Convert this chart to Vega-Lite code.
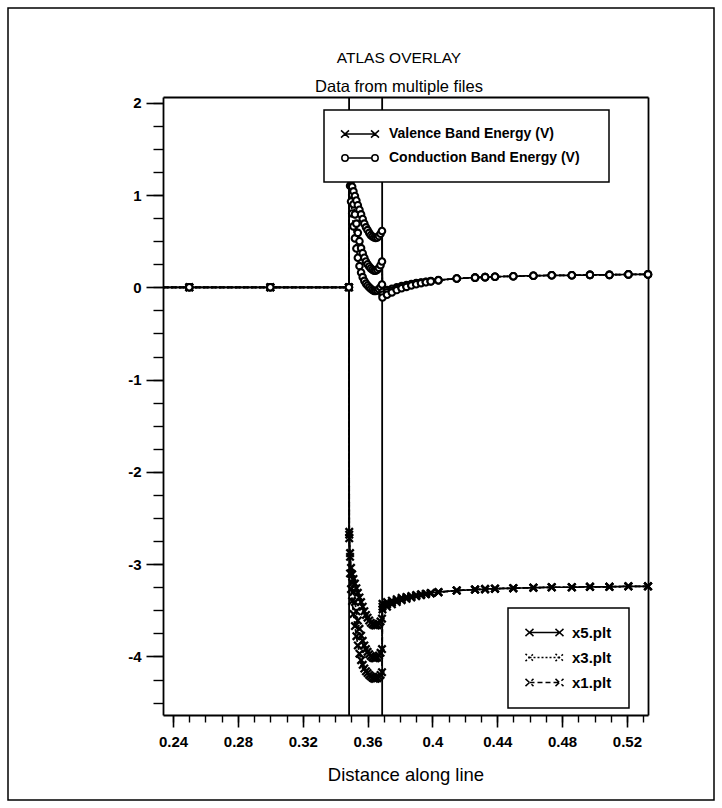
{
"$schema": "https://vega.github.io/schema/vega-lite/v6.json",
"width": 706, "height": 792, "padding": 8, "autosize": {"type": "none"},
"background": "white",
"title": {"text": "ATLAS OVERLAY", "subtitle": "Data from multiple files", "anchor": "middle", "dx": 38, "offset": -87,
  "font": "Liberation Sans", "fontSize": 15.5, "fontWeight": "normal", "color": "black",
  "subtitleFont": "Liberation Sans", "subtitleFontSize": 16.5, "subtitleColor": "black", "subtitlePadding": 12},
"datasets": {
  "bounds": [{"x": 0.3486}, {"x": 0.369}],
  "keys": [
    {"key": "cA", "band": "Conduction Band Energy (V)", "file": "x5.plt"},
    {"key": "cB", "band": "Conduction Band Energy (V)", "file": "x3.plt"},
    {"key": "cC", "band": "Conduction Band Energy (V)", "file": "x1.plt"},
    {"key": "vA", "band": "Valence Band Energy (V)", "file": "x5.plt"},
    {"key": "vB", "band": "Valence Band Energy (V)", "file": "x3.plt"},
    {"key": "vC", "band": "Valence Band Energy (V)", "file": "x1.plt"}
  ],
  "bands": [
    {"x": 0.2338, "cA": 0, "cB": 0, "cC": 0, "vA": 0, "vB": 0, "vC": 0},
    {"x": 0.25, "cA": 0, "cB": 0, "cC": 0, "vA": 0, "vB": 0, "vC": 0},
    {"x": 0.30, "cA": 0, "cB": 0, "cC": 0, "vA": 0, "vB": 0, "vC": 0},
    {"x": 0.3485, "cA": 0, "cB": 0, "cC": 0, "vA": 0, "vB": 0, "vC": 0},
    {"x": 0.3487, "cA": 1.55, "cB": 1.52, "cC": 1.48, "vA": -2.65, "vB": -2.68, "vC": -2.72},
    {"x": 0.3492, "cA": 1.32, "cB": 1.28, "cC": 1.10, "vA": -2.88, "vB": -2.92, "vC": -3.10},
    {"x": 0.3498, "cA": 1.16, "cB": 1.10, "cC": 0.93, "vA": -3.04, "vB": -3.10, "vC": -3.27},
    {"x": 0.3505, "cA": 1.09, "cB": 1.00, "cC": 0.80, "vA": -3.11, "vB": -3.20, "vC": -3.40},
    {"x": 0.3513, "cA": 1.04, "cB": 0.90, "cC": 0.66, "vA": -3.16, "vB": -3.30, "vC": -3.54},
    {"x": 0.3522, "cA": 0.99, "cB": 0.79, "cC": 0.53, "vA": -3.21, "vB": -3.41, "vC": -3.67},
    {"x": 0.3531, "cA": 0.94, "cB": 0.69, "cC": 0.42, "vA": -3.26, "vB": -3.51, "vC": -3.78},
    {"x": 0.3540, "cA": 0.89, "cB": 0.59, "cC": 0.32, "vA": -3.31, "vB": -3.61, "vC": -3.88},
    {"x": 0.3550, "cA": 0.84, "cB": 0.50, "cC": 0.23, "vA": -3.36, "vB": -3.70, "vC": -3.97},
    {"x": 0.3560, "cA": 0.79, "cB": 0.425, "cC": 0.16, "vA": -3.41, "vB": -3.775, "vC": -4.04},
    {"x": 0.3570, "cA": 0.74, "cB": 0.37, "cC": 0.11, "vA": -3.46, "vB": -3.83, "vC": -4.09},
    {"x": 0.3580, "cA": 0.69, "cB": 0.32, "cC": 0.07, "vA": -3.51, "vB": -3.88, "vC": -4.13},
    {"x": 0.3590, "cA": 0.65, "cB": 0.28, "cC": 0.04, "vA": -3.55, "vB": -3.92, "vC": -4.16},
    {"x": 0.3600, "cA": 0.62, "cB": 0.25, "cC": 0.02, "vA": -3.58, "vB": -3.95, "vC": -4.18},
    {"x": 0.3610, "cA": 0.59, "cB": 0.225, "cC": 0.00, "vA": -3.61, "vB": -3.975, "vC": -4.20},
    {"x": 0.3620, "cA": 0.565, "cB": 0.205, "cC": -0.015, "vA": -3.635, "vB": -3.995, "vC": -4.215},
    {"x": 0.3630, "cA": 0.55, "cB": 0.19, "cC": -0.03, "vA": -3.65, "vB": -4.01, "vC": -4.23},
    {"x": 0.3640, "cA": 0.54, "cB": 0.18, "cC": -0.04, "vA": -3.66, "vB": -4.02, "vC": -4.24},
    {"x": 0.3650, "cA": 0.535, "cB": 0.18, "cC": -0.04, "vA": -3.665, "vB": -4.02, "vC": -4.24},
    {"x": 0.3660, "cA": 0.54, "cB": 0.19, "cC": -0.035, "vA": -3.66, "vB": -4.01, "vC": -4.235},
    {"x": 0.3670, "cA": 0.555, "cB": 0.21, "cC": -0.02, "vA": -3.645, "vB": -3.99, "vC": -4.22},
    {"x": 0.3680, "cA": 0.58, "cB": 0.24, "cC": 0.00, "vA": -3.62, "vB": -3.96, "vC": -4.20},
    {"x": 0.3689, "cA": 0.61, "cB": 0.28, "cC": 0.03, "vA": -3.59, "vB": -3.92, "vC": -4.17},
    {"x": 0.3692, "cA": -0.05, "cB": -0.08, "cC": -0.11, "vA": -3.43, "vB": -3.46, "vC": -3.49},
    {"x": 0.3720, "cA": -0.03, "cB": -0.055, "cC": -0.08, "vA": -3.41, "vB": -3.435, "vC": -3.46},
    {"x": 0.3750, "cA": -0.015, "cB": -0.035, "cC": -0.055, "vA": -3.395, "vB": -3.415, "vC": -3.435},
    {"x": 0.3780, "cA": 0.0, "cB": -0.015, "cC": -0.03, "vA": -3.38, "vB": -3.395, "vC": -3.41},
    {"x": 0.3810, "cA": 0.015, "cB": 0.0, "cC": -0.01, "vA": -3.365, "vB": -3.38, "vC": -3.39},
    {"x": 0.3840, "cA": 0.025, "cB": 0.015, "cC": 0.005, "vA": -3.355, "vB": -3.365, "vC": -3.375},
    {"x": 0.3870, "cA": 0.035, "cB": 0.027, "cC": 0.02, "vA": -3.345, "vB": -3.353, "vC": -3.36},
    {"x": 0.3900, "cA": 0.045, "cB": 0.04, "cC": 0.033, "vA": -3.335, "vB": -3.34, "vC": -3.347},
    {"x": 0.3930, "cA": 0.053, "cB": 0.05, "cC": 0.045, "vA": -3.327, "vB": -3.33, "vC": -3.335},
    {"x": 0.3960, "cA": 0.06, "cB": 0.058, "cC": 0.055, "vA": -3.32, "vB": -3.322, "vC": -3.325},
    {"x": 0.3990, "cA": 0.068, "cB": 0.066, "cC": 0.064, "vA": -3.312, "vB": -3.314, "vC": -3.316},
    {"x": 0.4037, "cA": 0.078, "cB": 0.077, "cC": 0.076, "vA": -3.302, "vB": -3.303, "vC": -3.304},
    {"x": 0.4150, "cA": 0.095, "cB": 0.095, "cC": 0.095, "vA": -3.285, "vB": -3.285, "vC": -3.285},
    {"x": 0.4263, "cA": 0.105, "cB": 0.105, "cC": 0.105, "vA": -3.275, "vB": -3.275, "vC": -3.275},
    {"x": 0.4325, "cA": 0.11, "cB": 0.11, "cC": 0.11, "vA": -3.27, "vB": -3.27, "vC": -3.27},
    {"x": 0.4386, "cA": 0.115, "cB": 0.115, "cC": 0.115, "vA": -3.265, "vB": -3.265, "vC": -3.265},
    {"x": 0.4499, "cA": 0.12, "cB": 0.12, "cC": 0.12, "vA": -3.26, "vB": -3.26, "vC": -3.26},
    {"x": 0.4623, "cA": 0.125, "cB": 0.125, "cC": 0.125, "vA": -3.255, "vB": -3.255, "vC": -3.255},
    {"x": 0.4736, "cA": 0.13, "cB": 0.13, "cC": 0.13, "vA": -3.25, "vB": -3.25, "vC": -3.25},
    {"x": 0.4860, "cA": 0.13, "cB": 0.13, "cC": 0.13, "vA": -3.25, "vB": -3.25, "vC": -3.25},
    {"x": 0.4972, "cA": 0.135, "cB": 0.135, "cC": 0.135, "vA": -3.245, "vB": -3.245, "vC": -3.245},
    {"x": 0.5092, "cA": 0.135, "cB": 0.135, "cC": 0.135, "vA": -3.245, "vB": -3.245, "vC": -3.245},
    {"x": 0.5209, "cA": 0.14, "cB": 0.14, "cC": 0.14, "vA": -3.24, "vB": -3.24, "vC": -3.24},
    {"x": 0.5330, "cA": 0.14, "cB": 0.14, "cC": 0.14, "vA": -3.24, "vB": -3.24, "vC": -3.24}
  ]
},
"layer": [
  {
    "data": {"name": "bounds"},
    "mark": {"type": "rule", "color": "black", "strokeWidth": 1.8},
    "encoding": {
      "x": {"field": "x", "type": "quantitative",
        "scale": {"domain": [0.2338, 0.533], "range": [155, 640], "nice": false, "zero": false},
        "axis": {"orient": "bottom", "offset": -85, "values": [0.24, 0.28, 0.32, 0.36, 0.4, 0.44, 0.48, 0.52],
          "labelExpr": "datum.value + ''", "labelFont": "Liberation Sans", "labelFontSize": 15, "labelFontWeight": "bold",
          "labelColor": "black", "labelPadding": 7, "labelFlush": false, "labelOverlap": false,
          "tickSize": 12, "tickWidth": 1.6, "tickColor": "black",
          "domain": true, "domainColor": "black", "domainWidth": 1.8, "grid": false,
          "title": "Distance along line", "titleFont": "Liberation Sans", "titleFontSize": 18.5, "titleFontWeight": "normal",
          "titleColor": "black", "titlePadding": 16}},
      "y": {"datum": -4.634, "type": "quantitative",
        "scale": {"domain": [-4.634, 2.062], "range": [707, 89], "nice": false, "zero": false},
        "axis": {"orient": "left", "offset": -155, "values": [-4, -3, -2, -1, 0, 1, 2],
          "labelExpr": "datum.value + ''", "labelFont": "Liberation Sans", "labelFontSize": 15, "labelFontWeight": "bold",
          "labelColor": "black", "labelPadding": 5, "labelOverlap": false, "labelFlush": false,
          "tickSize": 17, "tickWidth": 1.6, "tickColor": "black",
          "domain": true, "domainColor": "black", "domainWidth": 1.8, "grid": false, "title": null}},
      "y2": {"datum": 2.062}
    }
  },
  {
    "data": {"name": "bands"},
    "transform": [
      {"fold": ["cA", "cB", "cC", "vA", "vB", "vC"], "as": ["key", "y"]},
      {"lookup": "key", "from": {"data": {"name": "keys"}, "key": "key", "fields": ["band", "file"]}}
    ],
    "mark": {"type": "line", "color": "black", "strokeWidth": 1.7},
    "encoding": {
      "x": {"field": "x", "type": "quantitative",
        "scale": {"domain": [0.2338, 0.533], "range": [155, 640], "nice": false, "zero": false},
        "axis": {"orient": "bottom", "offset": -85,
          "values": [0.24,0.25,0.26,0.27,0.28,0.29,0.3,0.31,0.32,0.33,0.34,0.35,0.36,0.37,0.38,0.39,0.4,0.41,0.42,0.43,0.44,0.45,0.46,0.47,0.48,0.49,0.5,0.51,0.52,0.53],
          "labels": false, "tickSize": 7, "tickWidth": 1.4, "tickColor": "black", "domain": false, "grid": false, "title": null}},
      "y": {"field": "y", "type": "quantitative",
        "scale": {"domain": [-4.634, 2.062], "range": [707, 89], "nice": false, "zero": false},
        "axis": {"orient": "left", "offset": -155,
          "values": [-4.5,-4.25,-4,-3.75,-3.5,-3.25,-3,-2.75,-2.5,-2.25,-2,-1.75,-1.5,-1.25,-1,-0.75,-0.5,-0.25,0,0.25,0.5,0.75,1,1.25,1.5,1.75,2],
          "labels": false, "tickSize": 10, "tickWidth": 1.4, "tickColor": "black", "domain": false, "grid": false, "title": null}},
      "detail": {"field": "key"},
      "strokeDash": {"field": "file", "type": "nominal",
        "scale": {"domain": ["x5.plt", "x3.plt", "x1.plt"], "range": [[1, 0], [2, 2], [5, 3]]},
        "legend": {"orient": "none", "legendX": 500, "legendY": 600, "title": null, "direction": "vertical",
          "fillColor": "white", "strokeColor": "black", "padding": 17,
          "labelFont": "Liberation Sans", "labelFontSize": 15, "labelFontWeight": "bold", "labelColor": "black", "labelLimit": 300,
          "symbolSize": 64, "symbolStrokeWidth": 1.5, "symbolStrokeColor": "black", "symbolOffset": -3, "labelOffset": 35, "rowPadding": 9,
          "encoding": {
            "symbols": {
              "shape": {"value": "M-1,-0.9L1,0.9M-1,0.9L1,-0.9M0,0L7.5,0M6.5,-0.9L8.5,0.9M6.5,0.9L8.5,-0.9"},
              "size": {"value": 64}, "stroke": {"value": "black"}, "strokeWidth": {"value": 1.5}},
            "legend": {"strokeWidth": {"value": 1.5}}
          }}}
    }
  },
  {
    "data": {"name": "bands"},
    "transform": [
      {"fold": ["vA", "vB", "vC"], "as": ["key", "y"]},
      {"filter": "datum.x >= 0.24"}
    ],
    "mark": {"type": "point", "shape": "M-1,-1L1,1M-1,1L1,-1", "filled": false, "stroke": "black", "strokeWidth": 2.3, "size": 55, "opacity": 1},
    "encoding": {
      "x": {"field": "x", "type": "quantitative",
        "scale": {"domain": [0.2338, 0.533], "range": [155, 640], "nice": false, "zero": false},
        "axis": {"orient": "top", "offset": -89, "ticks": false, "labels": false, "domain": true, "domainColor": "black", "domainWidth": 1.8, "grid": false, "title": null}},
      "y": {"field": "y", "type": "quantitative",
        "scale": {"domain": [-4.634, 2.062], "range": [707, 89], "nice": false, "zero": false},
        "axis": {"orient": "right", "offset": -66, "ticks": false, "labels": false, "domain": true, "domainColor": "black", "domainWidth": 1.8, "grid": false, "title": null}}
    }
  },
  {
    "data": {"name": "bands"},
    "transform": [
      {"fold": ["cA", "cB", "cC"], "as": ["key", "y"]},
      {"filter": "datum.x >= 0.24"}
    ],
    "mark": {"type": "point", "shape": "circle", "filled": true, "fill": "white", "stroke": "black", "strokeWidth": 2.1, "size": 42, "opacity": 1},
    "encoding": {
      "x": {"field": "x", "type": "quantitative",
        "scale": {"domain": [0.2338, 0.533], "range": [155, 640], "nice": false, "zero": false}, "axis": null},
      "y": {"field": "y", "type": "quantitative",
        "scale": {"domain": [-4.634, 2.062], "range": [707, 89], "nice": false, "zero": false}, "axis": null}
    }
  },
  {
    "data": {"name": "bands"},
    "transform": [
      {"fold": ["cA", "vA"], "as": ["key", "y"]},
      {"lookup": "key", "from": {"data": {"name": "keys"}, "key": "key", "fields": ["band", "file"]}},
      {"filter": "datum.x >= 0.24"}
    ],
    "mark": {"type": "point", "filled": true, "fill": "white", "stroke": "black", "strokeWidth": 1.5, "size": 64, "opacity": 0},
    "encoding": {
      "x": {"field": "x", "type": "quantitative",
        "scale": {"domain": [0.2338, 0.533], "range": [155, 640], "nice": false, "zero": false}, "axis": null},
      "y": {"field": "y", "type": "quantitative",
        "scale": {"domain": [-4.634, 2.062], "range": [707, 89], "nice": false, "zero": false}, "axis": null},
      "shape": {"field": "band", "type": "nominal",
        "scale": {"domain": ["Valence Band Energy (V)", "Conduction Band Energy (V)"],
                  "range": ["M-1,-0.9L1,0.9M-1,0.9L1,-0.9M0,0L7.5,0M6.5,-0.9L8.5,0.9M6.5,0.9L8.5,-0.9M61,0",
                            "M0.8,0L6.7,0M0.8,0A0.8,0.8 0 1,1 -0.8,0A0.8,0.8 0 1,1 0.8,0M8.3,0A0.8,0.8 0 1,1 6.7,0A0.8,0.8 0 1,1 8.3,0M61,0"]},
        "legend": {"orient": "none", "legendX": 316, "legendY": 102, "title": null, "direction": "vertical",
          "fillColor": "white", "strokeColor": "black", "padding": 17,
          "labelFont": "Liberation Sans", "labelFontSize": 14, "labelFontWeight": "bold", "labelColor": "black", "labelLimit": 400,
          "symbolSize": 64, "symbolStrokeWidth": 1.5, "symbolStrokeColor": "black", "symbolFillColor": "white", "symbolOpacity": 1,
          "symbolOffset": -3, "labelOffset": 37, "rowPadding": 10,
          "encoding": {
            "symbols": {"size": {"value": 64}, "stroke": {"value": "black"}, "fill": {"value": "white"}, "strokeWidth": {"value": 1.5}, "opacity": {"value": 1}},
            "legend": {"strokeWidth": {"value": 1.5}}
          }}}
    }
  }
],
"resolve": {"axis": {"x": "independent", "y": "independent"}},
"config": {"view": {"stroke": "black", "strokeWidth": 1.5}, "font": "Liberation Sans"}
}
